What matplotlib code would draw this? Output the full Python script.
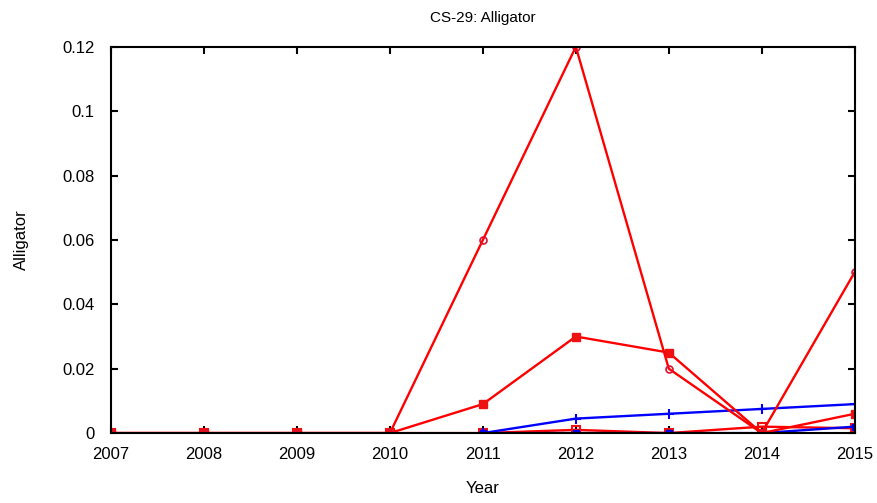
import matplotlib.pyplot as plt
import numpy as np

plt.rcParams["font.family"] = ["Liberation Sans", "DejaVu Sans"]

years = [2007, 2008, 2009, 2010, 2011, 2012, 2013, 2014, 2015]

# red, open circles
red_circle = [0, 0, 0, 0, 0.06, 0.12, 0.02, 0.0, 0.05]
# red, filled squares
red_square = [0, 0, 0, 0, 0.009, 0.03, 0.025, 0.0, 0.006]
# red, open squares
red_open_sq = [0, 0, 0, 0, 0.0, 0.001, 0.0, 0.002, 0.0015]
# blue, plus markers (starts in 2011)
blue_plus = [np.nan, np.nan, np.nan, np.nan, 0.0, 0.0045, 0.006, 0.0075, 0.009]
# blue, small squares
blue_square = [np.nan, np.nan, np.nan, np.nan, 0.0, 0.0, 0.0, 0.0, 0.002]

fig = plt.figure(figsize=(8.77, 5.03), dpi=100)
ax = fig.add_axes([0.1266, 0.139, 0.848, 0.768])

ax.plot(years, red_open_sq, color="#ff0000", lw=1.7, marker="s", ms=6,
        mfc="none", mec="#ee1111", mew=1.5)
ax.plot(years, blue_square, color="#0000ee", lw=1.7, marker="s", ms=4,
        mfc="#0000ee", mec="#0000ee")
ax.plot(years, blue_plus, color="#0000ff", lw=1.7, marker="+", ms=7, mew=1.5)
ax.plot(years, red_square, color="#ff0000", lw=1.7, marker="s", ms=6,
        mfc="#ee1111", mec="#ee1111")
ax.plot(years, red_circle, color="#ff0000", lw=1.7, marker="o", ms=5,
        mfc="none", mec="#dd1133", mew=1.2)

ax.set_xlim(2007, 2015)
ax.set_ylim(0, 0.12)
ax.set_xticks(years)
ax.set_yticks([0, 0.02, 0.04, 0.06, 0.08, 0.1, 0.12])
ax.set_yticklabels(["0", "0.02", "0.04", "0.06", "0.08", "0.1", "0.12"])
ax.tick_params(direction="in", top=True, right=True, length=5, width=1.5,
               labelsize=12)
ax.tick_params(axis="y", pad=12)
ax.tick_params(axis="x", pad=10)
for s in ax.spines.values():
    s.set_linewidth(1.5)

ax.set_title("CS-29: Alligator", fontsize=11, pad=18)
ax.set_xlabel("Year", fontsize=12, labelpad=14)
ax.set_ylabel("Alligator", fontsize=12, labelpad=24)

fig.savefig("out.png", dpi=100)
